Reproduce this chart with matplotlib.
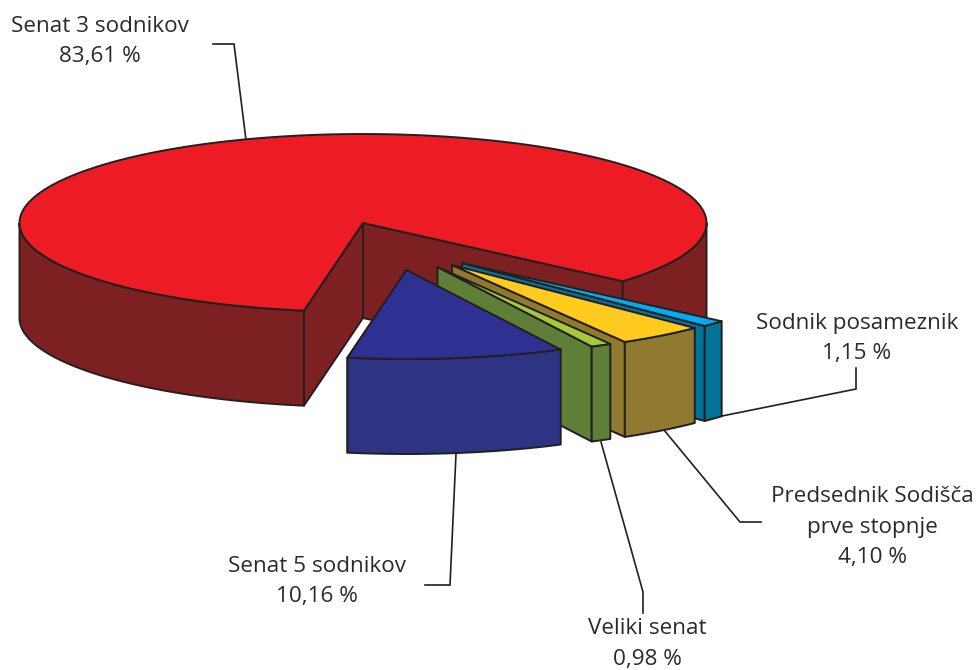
#3D style pie chart with exploded slices, drawn as patches
import numpy as np
import matplotlib
matplotlib.use("Agg")
import matplotlib.pyplot as plt
from matplotlib.patches import Polygon

plt.rcParams['font.family'] = ['Open Sans', 'DejaVu Sans']

categories = ["Senat 5 sodnikov", "Veliki senat", "Predsednik Sodišča\nprve stopnje", "Sodnik posameznik", "Senat 3 sodnikov"]
shares = [10.16, 0.98, 4.10, 1.15, 83.61]
value_labels = ["10,16 %", "0,98 %", "4,10 %", "1,15 %", "83,61 %"]

top_colors = ["#2E3192", "#A6C83C", "#FFCB1F", "#00AEEF", "#ED1C24"]
side_colors = ["#2F3383", "#5F7F38", "#8F7A30", "#007396", "#7D2022"]
# apex of every slice on the page (exploded)
apexes = [(406.5, 270), (437.5, 267), (452, 265), (462, 263), (363, 223)]

rx, ry, depth = 343.5, 89, 95
start_angle = -99.9
edge = "#231F20"
lw = 1.4

fig = plt.figure(figsize=(9.77, 6.7), dpi=100)
ax = fig.add_axes([0, 0, 1, 1])
ax.set_xlim(0, 977)
ax.set_ylim(670, 0)
ax.axis("off")


def rim(apex, t1, t2):
	t = np.radians(np.linspace(t1, t2, 200))
	return np.column_stack([apex[0] + rx*np.cos(t), apex[1] - ry*np.sin(t)])


def add_poly(pts, color, z):
	ax.add_patch(Polygon(pts, closed=True, facecolor=color, edgecolor=edge, linewidth=lw, joinstyle="round", zorder=z))


def down(pts):
	return pts + np.array([0, depth])


#the front wall of a slice, only the part of the rim below the centre shows
def add_wall(apex, t1, t2, color, z):
	for a, b in [(t1, t2), (t1 + 360, t2 + 360), (t1 - 360, t2 - 360)]:
		a, b = max(a, -180), min(b, 0)
		if b > a:
			r = rim(apex, a, b)
			add_poly(np.vstack([r, down(r)[::-1]]), color, z)


angles = np.cumsum([0] + [s*3.6 for s in shares]) + start_angle
#red slice is furthest back, then right to left
order = [4, 3, 2, 1, 0]
for n, i in enumerate(order):
	t1, t2 = angles[i], angles[i+1]
	apex = np.array(apexes[i], dtype=float)
	z = n*3 + 1
	start = rim(apex, t1, t1)[0]
	add_poly(np.vstack([apex, start, down(start[None])[0], apex + [0, depth]]), side_colors[i], z)
	if i == 4:
		end = rim(apex, t2, t2)[0]
		add_poly(np.vstack([apex, end, down(end[None])[0], apex + [0, depth]]), side_colors[i], z)
	add_wall(apex, t1, t2, side_colors[i], z + 1)
	add_poly(np.vstack([apex, rim(apex, t1, t2)]), top_colors[i], z + 2)

#leader lines
leaders = [
	[(456, 454), (450, 585), (425, 585)],
	[(601, 442), (643, 592), (643, 613)],
	[(664, 430), (740, 522), (761, 522)],
	[(722, 416), (856, 389), (856, 368)],
	[(246, 140), (234, 44), (213, 44)],
]
for pts in leaders:
	ax.plot([p[0] for p in pts], [p[1] for p in pts], color=edge, lw=1.2, zorder=0, solid_joinstyle="miter")

#labels, y is the first line
label_pos = [(317, 566), (647, 629), (872, 497), (857, 323), (100, 26)]
for (x, y), cat, val in zip(label_pos, categories, value_labels):
	for k, line in enumerate((cat + "\n" + val).split("\n")):
		ax.text(x, y + k*30.5, line, ha="center", va="center", fontsize=16.2, color="#2B2A29")

fig.savefig("out.png", dpi=100)
